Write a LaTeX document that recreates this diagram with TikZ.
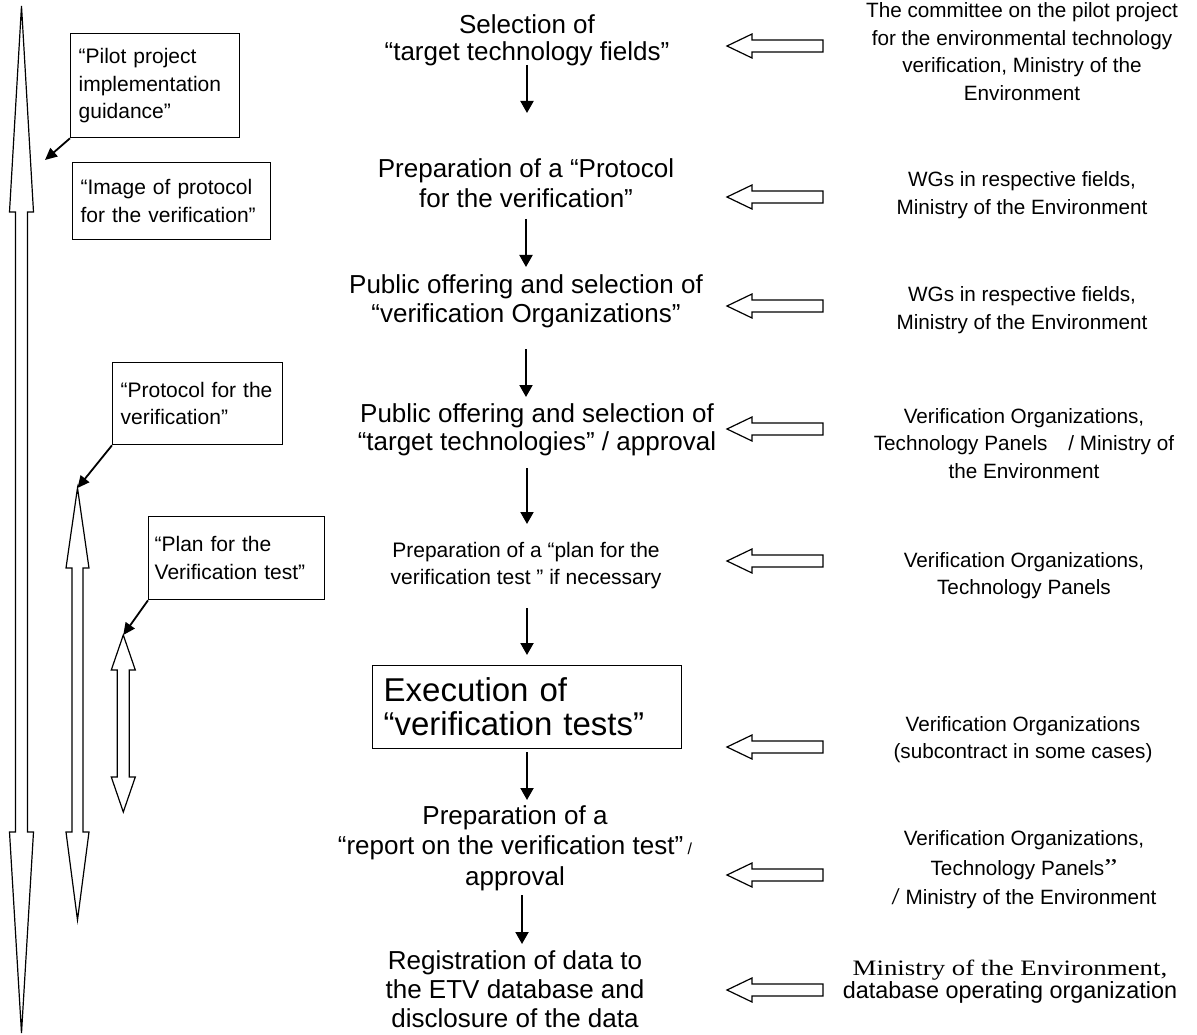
\documentclass[tikz,border=0pt]{standalone}
\usepackage{fontspec}
\setmainfont{Liberation Sans}
\newfontfamily\mincho[FakeStretch=1.22]{Liberation Serif}
\usetikzlibrary{arrows.meta}
\newcommand\hollowleft[1]{%
  \draw[hollow] (727,#1) -- (752,#1-12) -- (752,#1-6) -- (823,#1-6) -- (823,#1+6) -- (752,#1+6) -- (752,#1+12) -- cycle;}
\newcommand\dblarrow[7]{%
  \draw[hollow] (#1,#2) -- (#1+#6,#3) -- (#1+#7,#3) -- (#1+#7,#4) -- (#1+#6,#4) -- (#1,#5)
   -- (#1-#6,#4) -- (#1-#7,#4) -- (#1-#7,#3) -- (#1-#6,#3) -- cycle;}
\tikzset{
  flow/.style={line width=2pt, -{Triangle[width=13pt,length=12pt]}},
  callout/.style={line width=1.8pt, -{Triangle[width=11pt,length=12pt]}},
  hollow/.style={draw, line width=1.2pt, fill=white, line join=miter},
  notebox/.style={draw, line width=1.3pt, anchor=north west, align=left, inner xsep=8pt, inner ysep=0pt,
     font=\fontsize{21}{27.5}\selectfont},
  midtext/.style={align=center, inner sep=0pt, font=\fontsize{26}{30}\selectfont},
  righttext/.style={align=center, inner sep=0pt, font=\fontsize{20.7}{27.5}\selectfont},
}
\begin{document}
\begin{tikzpicture}[x=1pt,y=-1pt]
\useasboundingbox[fill=white] (0,0) rectangle (1197,1035);

% left double arrows
\dblarrow{21.5}{6}{212}{832}{1033}{12}{6}
\dblarrow{77.5}{488}{568}{832}{920}{11.5}{5.5}
\dblarrow{123.3}{635}{670}{777}{812}{12}{6}

% left note boxes
\node[notebox, minimum width=169pt, minimum height=104pt, text width=153pt] (b1) at (70,33)
  {“Pilot project\\implementation\\guidance”};
\node[notebox, minimum width=198pt, minimum height=77pt, text width=182pt, inner xsep=7pt] (b2) at (72,162)
  {“Image of protocol\\for the verification”};
\node[notebox, minimum width=170pt, minimum height=82pt, text width=154pt] (b3) at (112,362)
  {“Protocol for the\\verification”};
\node[notebox, minimum width=176pt, minimum height=83pt, text width=164pt, inner xsep=6pt] (b4) at (148,516)
  {“Plan for the\\Verification test”};

\coordinate (c1) at (45,160);
\coordinate (c2) at (77.5,488);
\coordinate (c3) at (123.3,635);
\draw[callout] (b1.south west) -- (c1);
\draw[callout] (b3.south west) -- (c2);
\draw[callout] (b4.south west) -- (c3);

% middle column
\node[midtext, font=\fontsize{26}{27}\selectfont] (m1) at (527,40) {Selection of\\“target technology fields”};
\node[midtext] (m2) at (526,183) {Preparation of a “Protocol\\for the verification”};
\node[midtext, font=\fontsize{26}{29}\selectfont] (m3) at (526,301.5) {Public offering and selection of\\“verification Organizations”};
\node[midtext, font=\fontsize{26}{28}\selectfont] (m4) at (537,430) {Public offering and selection of\\“target technologies” / approval};
\node[midtext, font=\fontsize{21}{27}\selectfont] (m5) at (526,565.5) {Preparation of a “plan for the\\verification test ” if necessary};
\node[draw, line width=1.3pt, anchor=north west, minimum width=309pt, minimum height=83pt, text width=287pt,
      inner xsep=11pt, inner ysep=0pt, align=left, font=\fontsize{33}{34}\selectfont] (m6) at (372,665)
  {Execution of\\“verification tests”};
\node[midtext, font=\fontsize{26}{30.5}\selectfont] (m7) at (515,848)
  {Preparation of a\\“report on the verification test”{\fontsize{16}{30.5}\selectfont\ /}\\approval};
\node[midtext, font=\fontsize{26}{29}\selectfont] (m8) at (515,989)
  {Registration of data to\\the ETV database and\\disclosure of the data};

\coordinate (a1s) at (527,65);  \coordinate (a1e) at (527,113);
\coordinate (a2s) at (526,219); \coordinate (a2e) at (526,267);
\coordinate (a3s) at (526,349); \coordinate (a3e) at (526,397);
\coordinate (a4s) at (527,468); \coordinate (a4e) at (527,524);
\coordinate (a5s) at (527,608); \coordinate (a5e) at (527,655);
\coordinate (a6s) at (527,752); \coordinate (a6e) at (527,800);
\coordinate (a7s) at (522,895); \coordinate (a7e) at (522,944);
\draw[flow] (a1s) -- (a1e);
\draw[flow] (a2s) -- (a2e);
\draw[flow] (a3s) -- (a3e);
\draw[flow] (a4s) -- (a4e);
\draw[flow] (a5s) -- (a5e);
\draw[flow] (a6s) -- (a6e);
\draw[flow] (a7s) -- (a7e);

% hollow arrows from the right
\hollowleft{46}
\hollowleft{197}
\hollowleft{306}
\hollowleft{429}
\hollowleft{561}
\hollowleft{747}
\hollowleft{875}
\hollowleft{990}

% right column
\node[righttext] (r1) at (1022,51.5) {The committee on the pilot project\\for the environmental technology\\verification, Ministry of the\\Environment};
\node[righttext] (r2) at (1022,195) {WGs in respective fields,\\Ministry of the Environment};
\node[righttext] (r3) at (1022,310) {WGs in respective fields,\\Ministry of the Environment};
\node[righttext] (r4) at (1024,443.5) {Verification Organizations,\\Technology Panels\quad/ Ministry of\\the Environment};
\node[righttext] (r5) at (1024,575.5) {Verification Organizations,\\Technology Panels};
\node[righttext] (r6) at (1023,739.5) {Verification Organizations\\(subcontract in some cases)};
\node[righttext, font=\fontsize{20.7}{29.5}\selectfont] (r7) at (1024,870)
  {Verification Organizations,\\Technology Panels{\mincho\fontsize{24}{29.5}\selectfont ”}\\{\mincho\fontsize{24}{29.5}\selectfont /} Ministry of the Environment};
\node[righttext, font=\fontsize{23.4}{23}\selectfont] (r8) at (1010,982)
  {{\mincho\fontsize{22}{23}\selectfont Ministry of the Environment,}\\database operating organization};
\end{tikzpicture}
\end{document}
